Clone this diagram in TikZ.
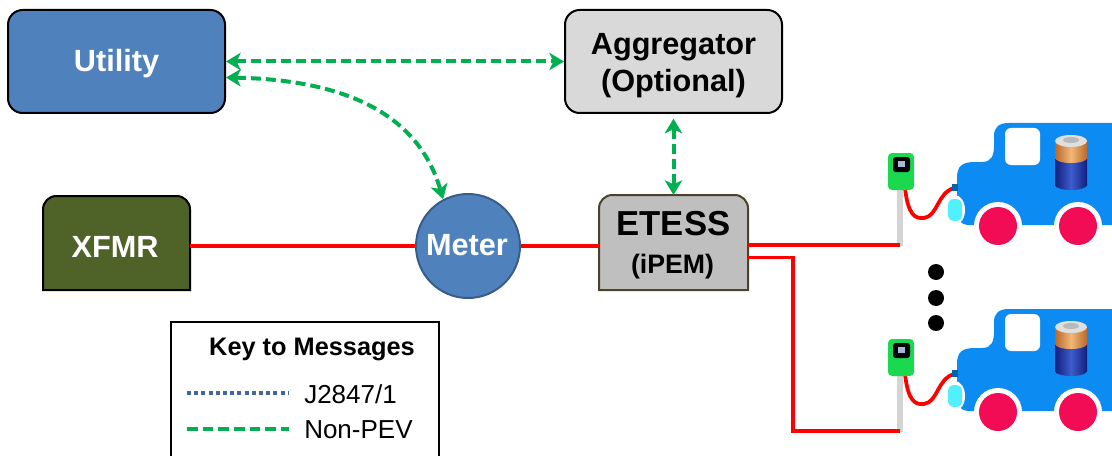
\documentclass[tikz,border=0pt]{standalone}
\usepackage{fontspec}
\setmainfont{Liberation Sans}
\usetikzlibrary{arrows.meta,calc}

\definecolor{utilblue}{HTML}{4F81BD}
\definecolor{meterrim}{HTML}{385D8A}
\definecolor{aggfill}{HTML}{D9D9D9}
\definecolor{xfmrfill}{HTML}{4F6228}
\definecolor{etessfill}{HTML}{BFBFBF}
\definecolor{etessrim}{HTML}{494429}
\definecolor{msggreen}{HTML}{00B050}
\definecolor{j2847blue}{HTML}{44679B}
\definecolor{powerred}{HTML}{FF0000}
\definecolor{polegray}{HTML}{D4D4D4}
\definecolor{chargergreen}{HTML}{1BD94F}
\definecolor{screenblue}{HTML}{A8B8D8}
\definecolor{carblue}{HTML}{0C8CF2}
\definecolor{wheelred}{HTML}{F20C55}
\definecolor{lampcyan}{HTML}{50F0FF}
\definecolor{batnavy}{HTML}{121E7C}
\definecolor{batblue}{HTML}{3D5DCC}
\definecolor{copperdark}{HTML}{B8682A}
\definecolor{copperlight}{HTML}{F2B878}

% box whose top corners are rounded and bottom corners square
\newcommand\roundtopbox[2]{%
  \path[#2] (#1.south west) -- ([yshift=-10pt]#1.north west)
    arc[start angle=180,end angle=90,radius=10pt]
    -- ([xshift=-10pt]#1.north east)
    arc[start angle=90,end angle=0,radius=10pt]
    -- (#1.south east) -- cycle;}

% charging post with a plugged-in car; #1 names the foot of the post
\newcommand\evstation[1]{%
  \fill[polegray] (897,188) rectangle (903,246);
  \coordinate (#1) at (900,245);
  \draw[powerred, line width=2.8pt] (905,188) .. controls (908,215) and (915,219) .. (924,218)
       .. controls (938,216) and (937,193) .. (954,188);
  \fill[chargergreen, rounded corners=3pt] (888,153) rectangle (914,190);
  \fill[black, rounded corners=2pt] (893,157) rectangle (910,172);
  \fill[screenblue] (898,161) rectangle (905,167);
  % body
  \fill[carblue] (968,225) .. controls (960,224) and (957,220) .. (957,212)
    -- (957,178) .. controls (957,166) and (962,162) .. (975,162)
    -- (982,162) .. controls (992,162) and (994,155) .. (994,145)
    -- (994,136) .. controls (994,127) and (999,123) .. (1009,123)
    -- (1125,123) -- (1125,225) -- cycle;
  \fill[carblue!70!black] (952,184) rectangle (958,191);
  % headlight
  \fill[white] (955,210) ellipse[x radius=10,y radius=15];
  \fill[lampcyan, rounded corners=4.5pt] (948,199) rectangle (962,221);
  % window
  \fill[white, rounded corners=4.5pt] (1005,128) rectangle (1040,165);
  % wheels
  \foreach \wx in {998,1078}{%
    \fill[white] (\wx,226) circle[radius=18pt];
    \fill[wheelred] (\wx,226) circle[radius=14.25pt];}
  % battery
  \shade[left color=batnavy, right color=batnavy, middle color=batblue] (1071,185) ellipse[x radius=16,y radius=5];
  \shade[left color=batnavy, right color=batnavy, middle color=batblue] (1055,158) rectangle (1087,185);
  \shade[left color=copperdark, right color=copperdark, middle color=copperlight] (1071,158) ellipse[x radius=16,y radius=5];
  \shade[left color=copperdark, right color=copperdark, middle color=copperlight] (1055,141) rectangle (1087,158);
  \fill[gray!25] (1071,141) ellipse[x radius=16,y radius=6];
  \fill[gray!55] (1071,140) ellipse[x radius=8,y radius=3];
}

\begin{document}
\begin{tikzpicture}[x=0.75pt,y=-0.75pt,
  box/.style={draw=black, line width=1.5pt, rounded corners=11pt, inner sep=0pt},
  plain/.style={inner sep=0pt, outer sep=0pt},
  whitelbl/.style={inner sep=0pt, anchor=base, text=white, font=\bfseries\fontsize{23}{27}\selectfont},
  blacklbl/.style={inner sep=0pt, anchor=base, text=black, font=\bfseries\fontsize{23}{27}\selectfont},
  keytxt/.style={inner sep=0pt, anchor=base west, font=\fontsize{19.5}{23}\selectfont},
  power/.style={draw=powerred, line width=2.8pt},
  msg/.style={draw=msggreen, line width=3pt, dash pattern=on 7.5pt off 3.75pt,
    {Stealth[length=11pt,width=13pt,inset=3pt]}-{Stealth[length=11pt,width=13pt,inset=3pt]}},
  j2847/.style={draw=j2847blue, line width=2.3pt, dash pattern=on 3pt off 2.4pt},
  nonpev/.style={draw=msggreen, line width=2.8pt, dash pattern=on 8pt off 3.75pt}]
\useasboundingbox (0,0) rectangle (1112,456);
\clip (0,0) rectangle (1112,456);

% boxes
\node[box, fill=utilblue, minimum width=162.75pt, minimum height=77.25pt] (utility) at (116.5,61.5) {};
\node[whitelbl] (utilitytxt) at (116.5,72) {Utility};

\node[box, fill=aggfill, minimum width=162.75pt, minimum height=77.25pt] (aggregator) at (673.5,61.5) {};
\node[blacklbl] (aggtxt1) at (673.5,55) {Aggregator};
\node[blacklbl] (aggtxt2) at (673.5,92) {(Optional)};

\node[plain, minimum width=110.25pt, minimum height=70.5pt] (xfmr) at (116.5,243) {};
\roundtopbox{xfmr}{fill=xfmrfill, draw=black, line width=1.5pt}
\node[whitelbl] (xfmrtxt) at (115,257) {XFMR};

\node[circle, draw=meterrim, fill=utilblue, line width=1.5pt, minimum size=78pt, inner sep=0pt] (meter) at (468,246) {};
\node[whitelbl] (metertxt) at (467,255) {Meter};

\node[plain, minimum width=111.75pt, minimum height=71.25pt] (etess) at (673.5,242.5) {};
\roundtopbox{etess}{fill=etessfill, draw=etessrim, line width=1.5pt}
\node[blacklbl, font=\bfseries\fontsize{26}{30}\selectfont] (etesstxt) at (673.5,235) {ETESS};
\node[blacklbl, font=\bfseries\fontsize{20}{24}\selectfont] (ipemtxt) at (672.5,273) {(iPEM)};

% charging posts and cars
\evstation{pole1}
\begin{scope}[shift={(0,186)}]
  \evstation{pole2}
\end{scope}

% more cars
\foreach \dy in {272,298,323} \fill[black] (936,\dy) circle[radius=6pt];

% power wiring
\draw[power] (meter.west) -- (meter.west -| xfmr.east);
\draw[power] (meter.east) -- (meter.east -| etess.west);
\draw[power] (pole1) -- (pole1 -| etess.east);
\draw[power] ([yshift=-11.25pt]etess.east) -- ++(45,0) |- (pole2);

% messages
\draw[msg] (utility.east) -- (aggregator.west);
\draw[msg] ([yshift=-12pt]utility.east) .. controls (355,80) and (420,120) .. (meter.118);
\draw[msg, shorten <=3.5pt] (aggregator.south) -- (etess.north);

% key
\node[draw=black, line width=1.5pt, minimum width=201pt, minimum height=118.5pt, inner sep=0pt] (key) at (305,401) {};
\node[inner sep=0pt, anchor=base, font=\bfseries\fontsize{19}{23}\selectfont] (keytitle) at (312,355) {Key to Messages};
\coordinate (k1s) at (187,393);
\coordinate (k1e) at (289,393);
\coordinate (k2s) at (187,429);
\coordinate (k2e) at (289,429);
\draw[j2847] (k1s) -- (k1e);
\draw[nonpev] (k2s) -- (k2e);
\node[keytxt] (k1txt) at (304,403) {J2847/1};
\node[keytxt] (k2txt) at (304,438) {Non-PEV};
\end{tikzpicture}
\end{document}
